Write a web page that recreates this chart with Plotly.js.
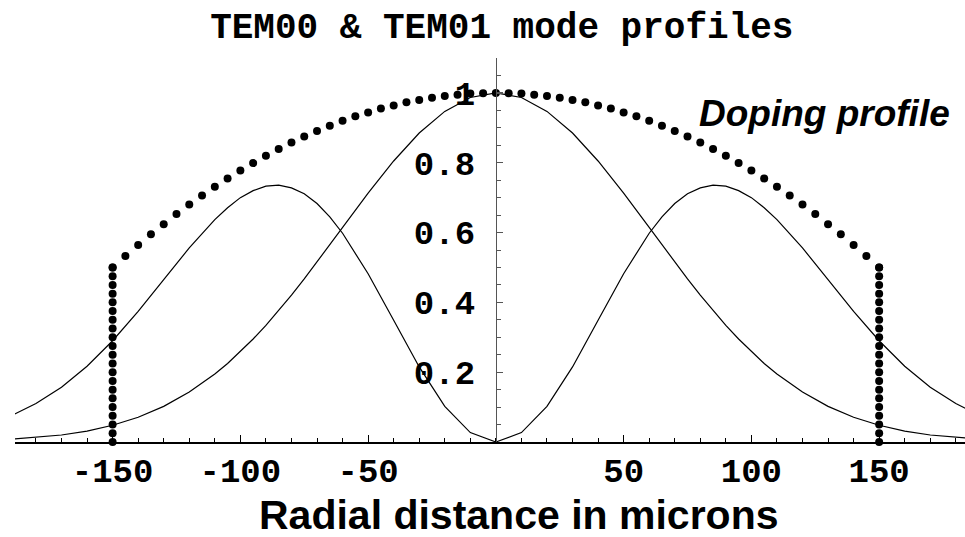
<!DOCTYPE html>
<html>
<head>
<meta charset="utf-8">
<script src="https://cdn.plot.ly/plotly-3.0.1.min.js"></script>
<style>html,body{margin:0;padding:0;background:#fff;}#chart{width:965px;height:537px;}</style>
</head>
<body>
<div id="chart"></div>
<script>
// Radial positions (microns) for the mode curves
const modeX = [-190,-180,-170,-160,-150,-140,-130,-120,-110,-105,-100,-95,-90,-85,-80,-75,-70,-65,-60,-50,-40,-30,-20,-10,0,
               10,20,30,40,50,60,65,70,75,80,85,90,95,100,105,110,120,130,140,150,160,170,180,190];
// TEM00 intensity profile
const tem00 = [0.008,0.013,0.020,0.031,0.048,0.071,0.102,0.143,0.195,0.225,0.259,0.295,0.334,0.376,0.421,0.467,0.516,0.565,0.615,0.713,0.805,0.885,0.947,0.987,1.000,
               0.987,0.947,0.885,0.805,0.713,0.615,0.565,0.516,0.467,0.421,0.376,0.334,0.295,0.259,0.225,0.195,0.143,0.102,0.071,0.048,0.031,0.020,0.013,0.008];
// TEM01 intensity profile
const tem01 = [0.074,0.110,0.157,0.217,0.290,0.374,0.465,0.556,0.637,0.671,0.700,0.720,0.733,0.736,0.728,0.711,0.683,0.645,0.598,0.482,0.349,0.215,0.102,0.027,0.000,
               0.027,0.102,0.215,0.349,0.482,0.598,0.645,0.683,0.711,0.728,0.736,0.733,0.720,0.700,0.671,0.637,0.556,0.465,0.374,0.290,0.217,0.157,0.110,0.074];
// Doping profile (dotted) top curve
const dopeX = [-150,-145,-140,-135,-130,-125,-120,-115,-110,-105,-100,-95,-90,-85,-80,-75,-70,-65,-60,-55,-50,-45,-40,-35,-30,-25,-20,-15,-10,-5,0,
               5,10,15,20,25,30,35,40,45,50,55,60,65,70,75,80,85,90,95,100,105,110,115,120,125,130,135,140,145,150];
const dopeY = [0.500,0.533,0.564,0.595,0.624,0.653,0.680,0.706,0.731,0.755,0.778,0.799,0.820,0.839,0.858,0.875,0.891,0.906,0.920,0.933,0.944,0.955,0.964,0.973,0.980,0.986,0.991,0.995,0.998,0.999,1.000,
               0.999,0.998,0.995,0.991,0.986,0.980,0.973,0.964,0.955,0.944,0.933,0.920,0.906,0.891,0.875,0.858,0.839,0.820,0.799,0.778,0.755,0.731,0.706,0.680,0.653,0.624,0.595,0.564,0.533,0.500];
// Doping profile vertical edges
const wallLeftX  = [-150,-150,-150,-150,-150,-150,-150,-150,-150,-150,-150,-150,-150,-150,-150,-150,-150,-150,-150,-150,-150];
const wallRightX = [150,150,150,150,150,150,150,150,150,150,150,150,150,150,150,150,150,150,150,150,150];
const wallY = [0,0.025,0.05,0.075,0.1,0.125,0.15,0.175,0.2,0.225,0.25,0.275,0.3,0.325,0.35,0.375,0.4,0.425,0.45,0.475,0.5];
// Tick labels
const xTickVals = [-150,-100,-50,50,100,150];
const xTickText = ['-150','-100','-50','50','100','150'];
const yTickVals = [0.2,0.4,0.6,0.8,1];
const yTickText = ['0.2','0.4','0.6','0.8','1'];

const lineStyle = {color:'#000', width:1.2};
const dotStyle = {color:'#000', size:8, symbol:'circle'};

const traces = [
  {x:modeX, y:tem00, mode:'lines', line:lineStyle, name:'TEM00'},
  {x:modeX, y:tem01, mode:'lines', line:lineStyle, name:'TEM01'},
  {x:dopeX, y:dopeY, mode:'markers', marker:dotStyle, name:'Doping', cliponaxis:false},
  {x:wallLeftX, y:wallY, mode:'markers', marker:dotStyle, name:'Doping edge L', cliponaxis:false},
  {x:wallRightX, y:wallY, mode:'markers', marker:dotStyle, name:'Doping edge R', cliponaxis:false}
];

const monoFont = '"Courier New", "Liberation Mono", "DejaVu Sans Mono", monospace';
const sansFont = 'Arial, "Liberation Sans", Helvetica, sans-serif';

const layout = {
  width:965, height:537,
  margin:{l:15, r:0, t:58, b:95, pad:0},
  paper_bgcolor:'#fff', plot_bgcolor:'#fff',
  showlegend:false,
  title:{text:'<b>TEM00 &amp; TEM01 mode profiles</b>', font:{family:monoFont, size:36, color:'#000'},
         x:0.52, xref:'container', xanchor:'center', y:0.953, yref:'container', yanchor:'middle'},
  xaxis:{
    range:[-188.2, 183.6], showgrid:false, zeroline:false,
    showline:true, linecolor:'#000', linewidth:1.6,
    tickmode:'array', tickvals:xTickVals, ticktext:xTickText,
    ticks:'inside', ticklen:7, tickwidth:1.2, tickcolor:'#000',
    tickfont:{family:monoFont, size:34, color:'#000', weight:'bold'},
    ticklabelstandoff:-2,
    minor:{tickmode:'linear', tick0:0, dtick:10, ticks:'inside', ticklen:4, tickwidth:1, tickcolor:'#000'}
  },
  yaxis:{
    range:[0, 1.1], showgrid:false, zeroline:false,
    anchor:'free', position:(0-(-188.2))/(183.6+188.2), side:'left',
    showline:true, linecolor:'#555', linewidth:1.2,
    tickmode:'array', tickvals:yTickVals, ticktext:yTickText,
    ticks:'inside', ticklen:6, tickwidth:1.2, tickcolor:'#555',
    tickfont:{family:monoFont, size:34, color:'#000', weight:'bold'},
    ticklabelstandoff:14,
    minor:{tickmode:'linear', tick0:0, dtick:0.05, ticks:'inside', ticklen:4, tickwidth:1, tickcolor:'#555'}
  },
  annotations:[
    {text:'<b><i>Doping profile</i></b>', xref:'x', yref:'y', x:128.5, y:0.94, showarrow:false,
     xanchor:'center', yanchor:'middle', font:{family:sansFont, size:37, color:'#000'}},
    {text:'<b>Radial distance in microns</b>', xref:'paper', yref:'paper', x:0.531, y:-0.19, showarrow:false,
     xanchor:'center', yanchor:'middle', font:{family:sansFont, size:41, color:'#000'}}
  ]
};

Plotly.newPlot('chart', traces, layout, {displayModeBar:false, staticPlot:true});
</script>
</body>
</html>
